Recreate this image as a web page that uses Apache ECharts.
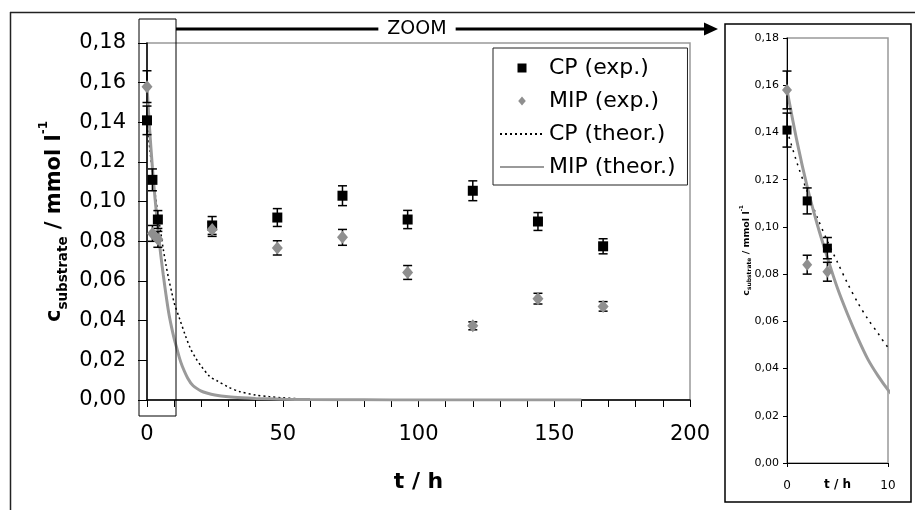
<!DOCTYPE html>
<html>
<head>
<meta charset="utf-8">
<script src="https://cdn.jsdelivr.net/npm/echarts@6/dist/echarts.min.js"></script>
<style>
  html, body { margin: 0; padding: 0; background: #fff; }
  #chart { width: 915px; height: 510px; }
</style>
</head>
<body>
<div id="chart"></div>
<script>
// measured points (t in h)
var tExp = [0, 2, 4, 24, 48, 72, 96, 120, 144, 168];
var cpExp = [0.141, 0.111, 0.091, 0.088, 0.092, 0.103, 0.091, 0.1055, 0.090, 0.0775];
var cpErr = [0.0072, 0.0055, 0.0045, 0.0045, 0.0045, 0.005, 0.0046, 0.005, 0.0045, 0.0038];
var mipExp = [0.158, 0.084, 0.081, 0.086, 0.0767, 0.082, 0.0643, 0.0374, 0.0511, 0.0472];
var mipErr = [0.008, 0.004, 0.004, 0.0035, 0.0036, 0.004, 0.0035, 0.002, 0.0027, 0.0024];

// theoretical curves
var cpTheoT = [0, 1, 2, 3, 4, 5, 6, 7, 8, 9, 10, 12, 14, 16, 18, 20, 23, 26, 30, 34, 40, 45, 50, 55, 60];
var cpTheo = [0.141, 0.127, 0.115, 0.104, 0.094, 0.085, 0.076, 0.068, 0.061, 0.055, 0.049, 0.041, 0.033, 0.026, 0.021, 0.017, 0.012, 0.0095, 0.0065, 0.0043, 0.0025, 0.0017, 0.0011, 0.0007, 0.0004];
var mipTheoT = [0, 1, 2, 3, 4, 5, 6, 7, 8, 9, 10, 11, 12, 13, 15, 17, 20, 22, 25, 30, 35, 40, 50, 60, 80, 100, 120, 140, 160];
var mipTheo = [0.158, 0.136, 0.117, 0.101, 0.087, 0.074, 0.063, 0.053, 0.044, 0.037, 0.031, 0.026, 0.021, 0.017, 0.011, 0.0072, 0.0045, 0.0035, 0.0025, 0.0016, 0.0011, 0.0008, 0.0004, 0.0002, 0.0001, 0, 0, 0, 0];

var yMin = 0, yMax = 0.18, yStep = 0.02;
var names = ['CP (exp.)', 'MIP (exp.)', 'CP (theor.)', 'MIP (theor.)'];

var chart = echarts.init(document.getElementById('chart'));

function zip(a, b) { return a.map(function (v, i) { return [v, b[i]]; }); }
function errData(y, e, maxT) {
  var out = [];
  tExp.forEach(function (t, i) { if (t <= maxT) out.push([t, y[i], e[i]]); });
  return out;
}
function comma(v) { return v.toFixed(2).replace('.', ','); }

function errorBars(cap, width) {
  return function (params, api) {
    var x = api.value(0), y = api.value(1), e = api.value(2);
    var hi = api.coord([x, y + e]);
    var lo = api.coord([x, y - e]);
    var st = { stroke: '#000', lineWidth: width };
    return {
      type: 'group',
      children: [
        { type: 'line', shape: { x1: hi[0], y1: hi[1], x2: lo[0], y2: lo[1] }, style: st },
        { type: 'line', shape: { x1: hi[0] - cap, y1: hi[1], x2: hi[0] + cap, y2: hi[1] }, style: st },
        { type: 'line', shape: { x1: lo[0] - cap, y1: lo[1], x2: lo[0] + cap, y2: lo[1] }, style: st }
      ]
    };
  };
}

var yName = '{c|c}{s|substrate}{c| / mmol l}{p|-1}';
// legend markers kept small inside the wide icon box (extra moveTo points fix the box)
var squareIcon = 'path://M0,0M44,9M17.5,0h9v9h-9z';
var diamondIcon = 'path://M0,0M44,9M22,0L25.8,4.5L22,9L18.2,4.5z';
var lineSmooth = 0.3;

var option = {
  animation: false,
  textStyle: { fontFamily: 'DejaVu Sans' },
  legend: {
    data: [
      { name: names[0], icon: squareIcon },
      { name: names[1], icon: diamondIcon },
      { name: names[2], itemStyle: { opacity: 0 } },
      { name: names[3], itemStyle: { opacity: 0 } }
    ],
    orient: 'vertical',
    left: 493,
    top: 48,
    padding: [9, 12, 7, 6],
    itemWidth: 44,
    itemHeight: 9,
    itemGap: 11,
    borderColor: '#222',
    borderWidth: 1,
    textStyle: { fontSize: 22, color: '#000' }
  },
  grid: [
    { left: 147, top: 43, right: 225, bottom: 110, show: true, borderColor: '#999', borderWidth: 1.5 },
    { left: 787, top: 38, right: 27, bottom: 47, show: true, borderColor: '#999', borderWidth: 1.5 }
  ],
  xAxis: [{
    gridIndex: 0, type: 'value', min: 0, max: 200, interval: 50,
    name: 't / h', nameLocation: 'middle', nameGap: 71, nameMoveOverlap: false,
    nameTextStyle: { fontSize: 22, fontWeight: 'bold', color: '#000' },
    axisLine: { lineStyle: { color: '#000', width: 1.5 } },
    axisTick: { length: 7, lineStyle: { color: '#000' } },
    minorTick: { show: true, splitNumber: 5, length: 7, lineStyle: { color: '#000' } },
    axisLabel: { fontSize: 21, color: '#000', margin: 24 },
    splitLine: { show: false }
  }, {
    gridIndex: 1, type: 'value', min: 0, max: 10, interval: 10,
    name: 't / h', nameLocation: 'middle', nameGap: 16, nameMoveOverlap: false,
    nameTextStyle: { fontSize: 12, fontWeight: 'bold', color: '#000' },
    axisLine: { lineStyle: { color: '#000', width: 1 } },
    axisTick: { length: 4, lineStyle: { color: '#000' } },
    axisLabel: { fontSize: 12, color: '#000', margin: 17 },
    splitLine: { show: false }
  }],
  yAxis: [{
    gridIndex: 0, type: 'value', min: yMin, max: yMax, interval: yStep,
    name: yName, nameLocation: 'middle', nameRotate: 90, nameGap: 88, nameMoveOverlap: false,
    nameTextStyle: {
      color: '#000',
      rich: {
        c: { fontSize: 21, fontWeight: 'bold', lineHeight: 21, verticalAlign: 'top', padding: [6, 0, 0, 0] },
        s: { fontSize: 13.5, fontWeight: 'bold', lineHeight: 14, verticalAlign: 'top', padding: [18, 0, 0, 0] },
        p: { fontSize: 12, fontWeight: 'bold', lineHeight: 12, verticalAlign: 'top', padding: [0, 0, 0, 0] }
      }
    },
    axisLine: { show: true, lineStyle: { color: '#000', width: 1.5 } },
    axisTick: { show: true, length: 9, lineStyle: { color: '#000' } },
    axisLabel: { fontSize: 21, color: '#000', margin: 21, formatter: comma },
    splitLine: { show: false }
  }, {
    gridIndex: 1, type: 'value', min: yMin, max: yMax, interval: yStep,
    name: yName, nameLocation: 'middle', nameRotate: 90, nameGap: 39, nameMoveOverlap: false,
    nameTextStyle: {
      color: '#000',
      rich: {
        c: { fontSize: 9.5, fontWeight: 'bold', lineHeight: 9.5, verticalAlign: 'top', padding: [3, 0, 0, 0] },
        s: { fontSize: 6, fontWeight: 'bold', lineHeight: 6, verticalAlign: 'top', padding: [8, 0, 0, 0] },
        p: { fontSize: 5.5, fontWeight: 'bold', lineHeight: 5.5, verticalAlign: 'top', padding: [0, 0, 0, 0] }
      }
    },
    axisLine: { show: true, lineStyle: { color: '#000', width: 1 } },
    axisTick: { show: true, length: 4, lineStyle: { color: '#000' } },
    axisLabel: { fontSize: 11, color: '#000', margin: 8, formatter: comma },
    splitLine: { show: false }
  }],
  series: [
    // main plot
    { name: 'CP (theor.)', type: 'line', xAxisIndex: 0, yAxisIndex: 0, data: zip(cpTheoT, cpTheo),
      symbol: 'none', smooth: lineSmooth, z: 2, color: '#000',
      lineStyle: { color: '#000', width: 1.5, type: [2, 3] } },
    { name: 'MIP (theor.)', type: 'line', xAxisIndex: 0, yAxisIndex: 0, data: zip(mipTheoT, mipTheo),
      symbol: 'none', smooth: lineSmooth, z: 2, color: '#9a9a9a',
      lineStyle: { color: '#9a9a9a', width: 3 } },
    { type: 'custom', xAxisIndex: 0, yAxisIndex: 0, renderItem: errorBars(4.5, 1.5),
      data: errData(cpExp, cpErr, 200), z: 3, silent: true },
    { type: 'custom', xAxisIndex: 0, yAxisIndex: 0, renderItem: errorBars(4.5, 1.5),
      data: errData(mipExp, mipErr, 200), z: 3, silent: true },
    { name: 'CP (exp.)', type: 'scatter', xAxisIndex: 0, yAxisIndex: 0, data: zip(tExp, cpExp),
      symbol: 'rect', symbolSize: 10, z: 4, itemStyle: { color: '#000', opacity: 1 } },
    { name: 'MIP (exp.)', type: 'scatter', xAxisIndex: 0, yAxisIndex: 0, data: zip(tExp, mipExp),
      symbol: 'diamond', symbolSize: [11, 13], z: 5, itemStyle: { color: '#8f8f8f', opacity: 1 } },
    // zoomed plot
    { name: 'cp theor zoom', type: 'line', xAxisIndex: 1, yAxisIndex: 1, data: zip(cpTheoT, cpTheo),
      symbol: 'none', smooth: lineSmooth, z: 2,
      lineStyle: { color: '#000', width: 1.5, type: [2, 5] } },
    { name: 'mip theor zoom', type: 'line', xAxisIndex: 1, yAxisIndex: 1, data: zip(mipTheoT, mipTheo),
      symbol: 'none', smooth: lineSmooth, z: 2,
      lineStyle: { color: '#9a9a9a', width: 3 } },
    { type: 'custom', xAxisIndex: 1, yAxisIndex: 1, renderItem: errorBars(4.5, 1.5),
      data: errData(cpExp, cpErr, 10), z: 3, silent: true },
    { type: 'custom', xAxisIndex: 1, yAxisIndex: 1, renderItem: errorBars(4.5, 1.5),
      data: errData(mipExp, mipErr, 10), z: 3, silent: true },
    { name: 'cp exp zoom', type: 'scatter', xAxisIndex: 1, yAxisIndex: 1, data: zip(tExp, cpExp),
      symbol: 'rect', symbolSize: 9, z: 4, itemStyle: { color: '#000', opacity: 1 } },
    { name: 'mip exp zoom', type: 'scatter', xAxisIndex: 1, yAxisIndex: 1, data: zip(tExp, mipExp),
      symbol: 'diamond', symbolSize: [10, 12], z: 5, itemStyle: { color: '#8f8f8f', opacity: 1 } }
  ],
  graphic: [
    // outer frame
    { type: 'line', shape: { x1: 10, y1: 12.5, x2: 915, y2: 12.5 }, style: { stroke: '#222', lineWidth: 1.5 } },
    { type: 'line', shape: { x1: 10.5, y1: 12, x2: 10.5, y2: 510 }, style: { stroke: '#222', lineWidth: 1.5 } },
    // zoom window on the main plot
    { type: 'rect', shape: { x: 139, y: 19, width: 37, height: 397 }, style: { fill: 'none', stroke: '#000', lineWidth: 1 }, z: 10 },
    // arrow to the inset
    { type: 'line', shape: { x1: 176, y1: 29, x2: 705, y2: 29 }, style: { stroke: '#000', lineWidth: 3 } },
    { type: 'polygon', shape: { points: [[704, 22.5], [718, 29], [704, 35.5]] }, style: { fill: '#000' } },
    { type: 'text', x: 417, y: 29, style: { text: 'ZOOM', fontSize: 19, fontFamily: 'DejaVu Sans', fill: '#000',
        align: 'center', verticalAlign: 'middle', backgroundColor: '#fff', padding: [2, 9, 2, 9] } },
    // inset frame
    { type: 'rect', shape: { x: 725, y: 24, width: 186, height: 478 }, style: { fill: 'none', stroke: '#000', lineWidth: 1.5 } }
  ]
};

chart.setOption(option);
</script>
</body>
</html>
